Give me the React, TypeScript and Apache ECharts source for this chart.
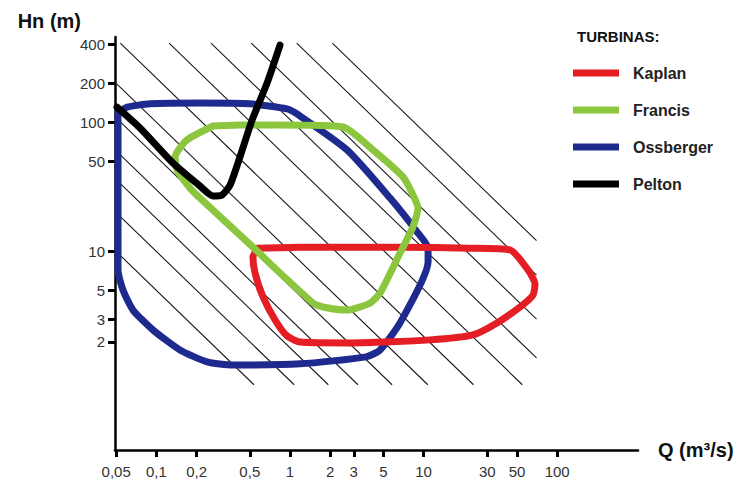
import React, { useEffect, useRef } from "react";
import * as echarts from "echarts";

// Tick labels (raw units)
const Q_TICKS = [0.05, 0.1, 0.2, 0.5, 1, 2, 3, 5, 10, 30, 50, 100];
const H_TICKS = [2, 3, 5, 10, 50, 100, 200, 400];

// Axis extents (raw units, log scale)
const Q_RANGE = [0.04898, 402.5];
const H_RANGE = [0.2908, 457.3];

// Hatched window and iso-power lines (Q·H = const)
const HATCH_Q = [0.05, 70];
const HATCH_H = [0.93, 410];
const HATCH_P = [0.5, 1, 1.8, 3, 5.4, 10, 22, 51, 105, 210, 460, 850];

// Turbine application envelopes (Q in m3/s, H in m)
const KAPLAN_Q = [0.576, 1.19, 6.66, 22.3, 44.3, 60.5, 68.2, 65.9, 52.7, 35.4, 23.4, 11.2, 2.81, 1.19, 0.95, 0.773, 0.628, 0.547, 0.528, 0.576];
const KAPLAN_H = [10.6, 10.8, 10.8, 10.6, 10.3, 7.19, 5.6, 4.6, 3.72, 2.8, 2.26, 2.07, 1.96, 1.99, 2.22, 2.95, 4.45, 6.82, 9.06, 10.6];

const FRANCIS_Q = [0.265, 0.422, 0.842, 2.49, 4.18, 7.01, 8.33, 9.08, 8.33, 6.66, 4.72, 3.97, 2.67, 1.77, 1.49, 0.842, 0.528, 0.212, 0.178, 0.143, 0.138, 0.169, 0.265];
const FRANCIS_H = [93.6, 95.3, 95.3, 92.0, 61.1, 37.8, 27.4, 21.7, 15.5, 9.73, 4.77, 3.99, 3.52, 3.72, 3.99, 6.82, 10.8, 25.9, 31.0, 42.7, 53.9, 72.9, 93.6];

const OSSBERGER_Q = [0.0516, 0.0603, 0.0896, 0.212, 0.502, 0.95, 1.128, 2.67, 5.61, 8.93, 10.8, 10.8, 6.66, 4.72, 3.71, 1.19, 0.374, 0.239, 0.15, 0.0943, 0.0668, 0.0562, 0.0516, 0.0516];
const OSSBERGER_H = [118, 131, 139, 141, 139, 127, 116, 61.1, 25.9, 14.2, 10.6, 8.29, 2.8, 1.73, 1.53, 1.35, 1.32, 1.4, 1.73, 2.47, 3.52, 5.03, 7.19, 118];

const PELTON_Q = [0.0507, 0.0754, 0.133, 0.212, 0.265, 0.31, 0.356, 0.422, 0.52, 0.673, 0.842];
const PELTON_H = [131, 90.3, 48.4, 32.1, 26.9, 27.4, 32.7, 53.9, 104, 201, 396];

const FONT = "'Liberation Sans', Arial, Helvetica, sans-serif";
const lg = Math.log10;

const toPairs = (qs: number[], hs: number[]) => qs.map((q, i) => [lg(q), lg(hs[i])]);

function hatchSegment(p: number) {
  const c = lg(p);
  const qL = lg(HATCH_Q[0]), qR = lg(HATCH_Q[1]);
  const hB = lg(HATCH_H[0]), hT = lg(HATCH_H[1]);
  let x1 = c - hT, y1 = hT;
  if (x1 < qL) { x1 = qL; y1 = c - qL; }
  let x2 = c - hB, y2 = hB;
  if (x2 > qR) { x2 = qR; y2 = c - qR; }
  return [[x1, y1], [x2, y2]];
}

const fmt = (ticks: number[]) => (v: number) => {
  const t = ticks.find((k) => Math.abs(lg(k) - v) < 1e-6);
  return t === undefined ? "" : String(t).replace(".", ",");
};

export default function App() {
  const ref = useRef<HTMLDivElement>(null);
  useEffect(() => {
    if (!ref.current) return;
    const chart = echarts.init(ref.current, null, { renderer: "svg" });
    const qVals = Q_TICKS.map(lg);
    const hVals = H_TICKS.map(lg);

    const hatchSeries = HATCH_P.map((p, i) => ({
      type: "line",
      name: "hatch" + i,
      data: hatchSegment(p),
      symbol: "none",
      silent: true,
      lineStyle: { color: "#1a1a1a", width: 1.1 },
      z: 1,
    }));

    const curve = (name: string, color: string, q: number[], h: number[]) => ({
      type: "line",
      name,
      data: toPairs(q, h),
      symbol: "none",
      smooth: 0.2,
      itemStyle: { color },
      lineStyle: { color, width: 7, join: "round", cap: "round" },
      z: 3,
    });

    chart.setOption({
      animation: false,
      backgroundColor: "#ffffff",
      title: {
        text: "TURBINAS:",
        left: 577,
        top: 29,
        padding: 0,
        textStyle: { fontSize: 15, fontWeight: "bold", color: "#111", fontFamily: FONT },
      },
      legend: {
        data: ["Kaplan", "Francis", "Ossberger", "Pelton"],
        orient: "vertical",
        left: 573,
        top: 65,
        padding: 0,
        itemWidth: 46,
        itemHeight: 7,
        itemGap: 21,
        icon: "rect",
        selectedMode: false,
        textStyle: { fontSize: 16, fontWeight: "bold", color: "#222", fontFamily: FONT, padding: [0, 0, 0, 9] },
      },
      grid: { left: 115, top: 37, right: 116, bottom: 31, containLabel: false, outerBoundsMode: "none" },
      xAxis: {
        type: "value",
        min: lg(Q_RANGE[0]),
        max: lg(Q_RANGE[1]),
        name: "Q (m³/s)",
        nameLocation: "end",
        nameGap: 20,
        nameTextStyle: {
          fontSize: 20, fontWeight: "bold", color: "#111", fontFamily: FONT,
          align: "left", verticalAlign: "middle", padding: [28, 0, 0, 0],
        },
        axisLine: { show: true, onZero: false, lineStyle: { color: "#000", width: 2.5 } },
        axisTick: { show: true, customValues: qVals, length: 7, lineStyle: { color: "#000", width: 3 } },
        axisLabel: { customValues: qVals, formatter: fmt(Q_TICKS), fontSize: 15, color: "#333", margin: 14, fontFamily: FONT },
        splitLine: { show: false },
      },
      yAxis: {
        type: "value",
        min: lg(H_RANGE[0]),
        max: lg(H_RANGE[1]),
        name: "Hn (m)",
        nameLocation: "end",
        nameGap: 16.5,
        nameTextStyle: {
          fontSize: 20, fontWeight: "bold", color: "#111", fontFamily: FONT,
          align: "right", verticalAlign: "middle", padding: [0, 34, 0, 0],
        },
        axisLine: { show: true, onZero: false, lineStyle: { color: "#000", width: 2.5 } },
        axisTick: { show: true, customValues: hVals, length: 7, lineStyle: { color: "#000", width: 3 } },
        axisLabel: { customValues: hVals, formatter: fmt(H_TICKS), fontSize: 15, color: "#333", margin: 10, fontFamily: FONT },
        splitLine: { show: false },
      },
      series: [
        ...hatchSeries,
        curve("Ossberger", "#1f2a8f", OSSBERGER_Q, OSSBERGER_H),
        curve("Kaplan", "#e41e24", KAPLAN_Q, KAPLAN_H),
        curve("Francis", "#8cc63f", FRANCIS_Q, FRANCIS_H),
        curve("Pelton", "#000000", PELTON_Q, PELTON_H),
      ],
    });
    return () => chart.dispose();
  }, []);
  return (
    <div
      ref={ref}
      style={{ position: "fixed", left: 0, top: 0, width: 754, height: 481, background: "#fff" }}
    />
  );
}
